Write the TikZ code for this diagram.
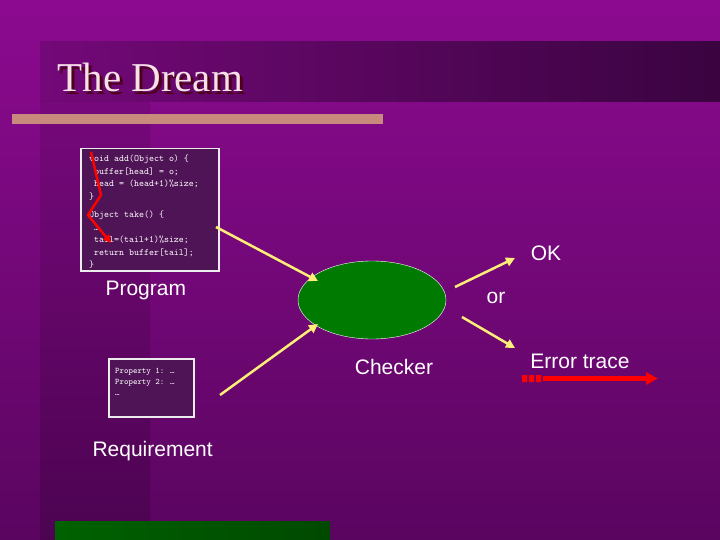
\documentclass[tikz,border=0pt]{standalone}
\usepackage{fontspec}
\setsansfont{Liberation Sans}
\setmainfont{Liberation Serif}
\usetikzlibrary{arrows.meta,shapes.geometric}
\definecolor{bgtop}{HTML}{8C0A90}
\definecolor{bgbot}{HTML}{5A0560}
\definecolor{band}{HTML}{3A0440}
\definecolor{boxfill}{HTML}{4F1455}
\definecolor{salmon}{HTML}{C98A7E}
\definecolor{yarrow}{HTML}{FFEE77}
\definecolor{chk}{HTML}{007A00}
\tikzset{
  yarr/.style={draw=yarrow,line width=2.5pt,-{Triangle[length=9pt,width=9pt]}},
  code/.style={font=\ttfamily\fontsize{9.5}{12.5}\selectfont,text=white,align=left,anchor=north west,inner sep=0pt},
  lbl/.style={font=\sffamily\fontsize{21}{24}\selectfont,text=white},
}
\begin{document}
\begin{tikzpicture}[x=1pt,y=-1pt]
\useasboundingbox (0,0) rectangle (720,540);
\shade[top color=bgtop,bottom color=bgbot] (0,0) rectangle (720,540);
\shade[left color=bgtop!70!band,right color=band] (40,42) rectangle (720,102);
\shade[top color=bgtop!60!band,bottom color=bgbot!70!black,opacity=0.5] (40,102) rectangle (150,540);
\fill[salmon] (12,114) rectangle (383,124);
\node[font=\rmfamily\fontsize{41}{44}\selectfont,text=black!60!purple,anchor=west] (shadow) at (57,80) {The Dream};
\node[font=\rmfamily\fontsize{41}{44}\selectfont,text=white!88!purple,anchor=west] (title) at (54,77) {The Dream};
\shade[left color=chk!80!black,right color=chk!60!black] (55,521) rectangle (330,540);
% code box
\node[draw=white!85!gray,line width=1.5pt,fill=boxfill,minimum width=138pt,minimum height=122pt,anchor=north west] (codebox) at (80,148) {};
\node[code] (code) at (89,155) {void add(Object o) \{\\ \ buffer[head] = o;\\ \ head = (head+1)\%size;\\\}\\[6pt]Object take() \{\\ \ \ldots\\ \ tail=(tail+1)\%size;\\ \ return buffer[tail];\\\}};
\draw[red,line width=2.5pt,-{Triangle[length=8pt,width=8pt]}] (91,152) -- (101,195) -- (88,215) -- (111,243);
\node[lbl,anchor=west] (prog) at (102,290) {Program};
% property box
\node[draw=white!85!gray,line width=1.5pt,fill=boxfill,minimum width=85pt,minimum height=58pt,anchor=north west] (propbox) at (108,358) {};
\node[code,font=\ttfamily\fontsize{8.5}{11}\selectfont] (prop) at (115,368) {Property 1: \ldots\\Property 2: \ldots\\\ldots};
\node[lbl,anchor=west] (req) at (89,451) {Requirement};
% checker
\node[draw=white,fill=chk,ellipse,minimum width=148pt,minimum height=78pt,inner sep=0pt] (checker) at (372,300) {};
\node[lbl] (chklbl) at (394,367) {Checker};
\node[lbl] (ok) at (546,253) {OK};
\node[lbl] (or) at (496,298) {or};
\node[lbl] (err) at (580,361) {Error trace};
\coordinate (okend) at (515,258);
\coordinate (errend) at (515,348);
\draw[yarr] (216,227) -- (318,281);
\draw[yarr] (220,395) -- (318,324);
\draw[yarr] (455,287) -- (okend);
\draw[yarr] (462,317) -- (errend);
% error trace arrow
\fill[red] (522,375) rectangle (527,382) (529,375) rectangle (534,382) (536,375) rectangle (541,382);
\draw[red,line width=5pt,-{Triangle[length=12pt,width=12pt]}] (543,378.5) -- (658,378.5);
\end{tikzpicture}
\end{document}
